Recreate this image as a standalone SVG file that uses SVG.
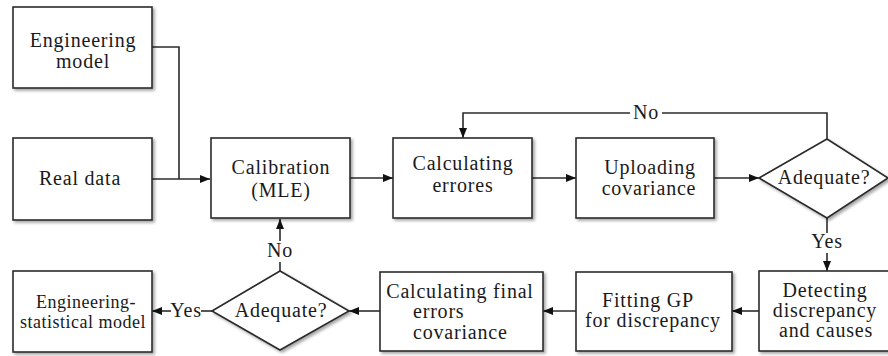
<svg xmlns="http://www.w3.org/2000/svg" width="888" height="356" viewBox="0 0 888 356">
<defs>
<style>
.box{fill:#fff;stroke:#2b2b2b;stroke-width:1.6;filter:url(#sh)}
.t{font-family:'Liberation Serif','Times New Roman','DejaVu Serif',serif;font-size:20px;letter-spacing:0.8px;fill:#1a1a1a;text-anchor:middle}
.s{font-size:18px;letter-spacing:0.5px}
.c{fill:none;stroke:#2b2b2b;stroke-width:1.6}
.a{marker-end:url(#ah)}
</style>
<marker id="ah" viewBox="0 0 10 10" refX="10" refY="5" markerWidth="10" markerHeight="10" markerUnits="userSpaceOnUse" orient="auto">
<path d="M0,1 L10,5 L0,9 z" fill="#111"/>
</marker>
<filter id="sh" x="-10%" y="-10%" width="130%" height="130%">
<feDropShadow dx="2" dy="2" stdDeviation="1.5" flood-color="#000" flood-opacity="0.35"/>
</filter>
</defs>
<rect width="888" height="356" fill="#fff"/>
<g id="connectors">
<path class="c" d="M152,47 H179 V179"/>
<path class="c a" d="M152,179 H210"/>
<path class="c a" d="M350,178 H393"/>
<path class="c a" d="M532,178 H576"/>
<path class="c a" d="M714,178 H759"/>
<path class="c" d="M827,139 V113 H662"/>
<path class="c a" d="M630,113 H463 V138"/>
<text class="t" x="646" y="119">No</text>
<path class="c" d="M827,218 V233"/>
<text class="t" x="827" y="248">Yes</text>
<path class="c a" d="M827,253 V271"/>
<path class="c a" d="M759,311 H732"/>
<path class="c a" d="M576,311 H543"/>
<path class="c a" d="M380,311 H349"/>
<path class="c" d="M212,311 H201"/>
<text class="t" x="186" y="317">Yes</text>
<path class="c a" d="M171,311 H152"/>
<path class="c" d="M280,271 V262"/>
<text class="t" x="280" y="257">No</text>
<path class="c a" d="M280,241 V219"/>
</g>
<g id="engineering-model">
<rect class="box" x="13" y="7" width="139" height="81"/>
<text class="t" x="83" y="47">Engineering</text>
<text class="t" x="83" y="68">model</text>
</g>
<g id="real-data">
<rect class="box" x="13" y="138" width="139" height="82"/>
<text class="t" x="80" y="185">Real data</text>
</g>
<g id="calibration">
<rect class="box" x="211" y="138" width="139" height="80"/>
<text class="t" x="281" y="174">Calibration</text>
<text class="t" x="281" y="197">(MLE)</text>
</g>
<g id="calculating-errores">
<rect class="box" x="393" y="138" width="139" height="80"/>
<text class="t" x="463" y="170">Calculating</text>
<text class="t" x="463" y="192">errores</text>
</g>
<g id="uploading-covariance">
<rect class="box" x="576" y="138" width="138" height="80"/>
<text class="t" x="650" y="174">Uploading</text>
<text class="t" x="649" y="195">covariance</text>
</g>
<g id="adequate-top">
<polygon class="box" points="759,178 827,139 888,178 827,218"/>
<text class="t" x="824" y="184">Adequate?</text>
</g>
<g id="detecting">
<rect class="box" x="759" y="271" width="140" height="80"/>
<text class="t" x="825" y="297">Detecting</text>
<text class="t" x="825" y="317">discrepancy</text>
<text class="t" x="826" y="337">and causes</text>
</g>
<g id="fitting-gp">
<rect class="box" x="576" y="272" width="156" height="79"/>
<text class="t" x="648" y="307">Fitting GP</text>
<text class="t" x="653" y="327">for discrepancy</text>
</g>
<g id="calculating-final">
<rect class="box" x="380" y="272" width="163" height="79"/>
<text class="t" x="460" y="298">Calculating final</text>
<text class="t" x="413" y="318" style="text-anchor:start">errors</text>
<text class="t" x="413" y="339" style="text-anchor:start">covariance</text>
</g>
<g id="adequate-bottom">
<polygon class="box" points="212,311 280,271 349,311 280,350"/>
<text class="t" x="281" y="317">Adequate?</text>
</g>
<g id="engineering-statistical-model">
<rect class="box" x="13" y="271" width="139" height="81"/>
<text class="t s" x="86" y="308">Engineering-</text>
<text class="t s" x="83" y="328">statistical model</text>
</g>
</svg>
